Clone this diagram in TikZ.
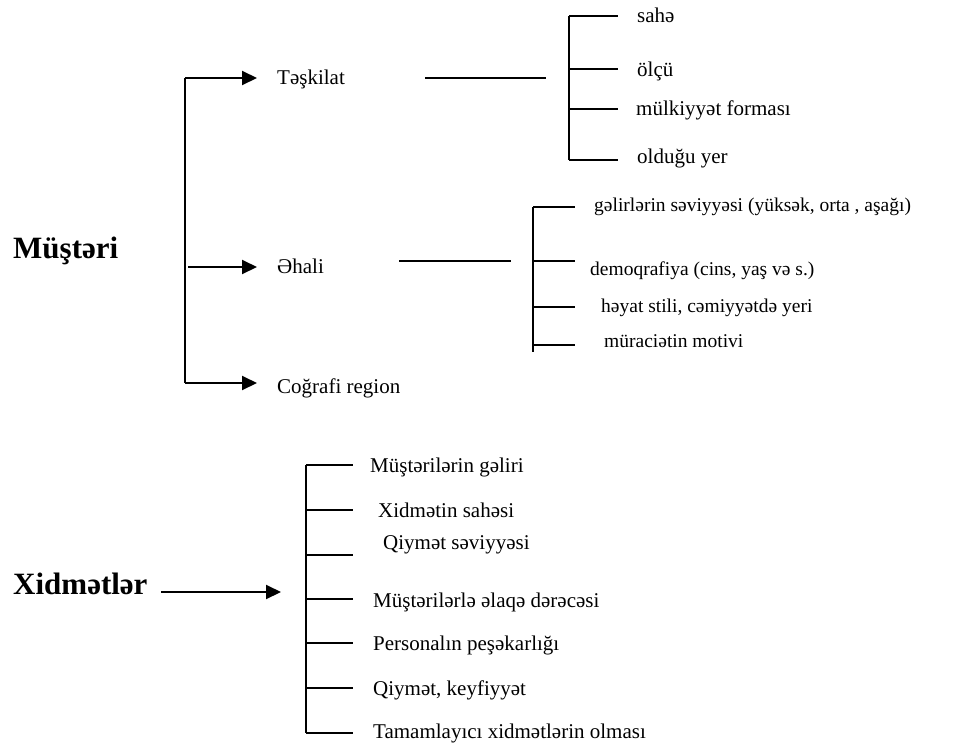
\documentclass[tikz,border=0pt]{standalone}
\usepackage{fontspec}
\setmainfont{Liberation Serif}
\usetikzlibrary{arrows.meta}
\begin{document}
\begin{tikzpicture}[x=1pt,y=-1pt,
  lbl/.style={anchor=base west,inner sep=0pt,font=\fontsize{21}{25}\selectfont},
  slbl/.style={anchor=base west,inner sep=0pt,font=\fontsize{19.5}{23}\selectfont},
  head/.style={anchor=base west,inner sep=0pt,font=\fontsize{31}{36}\selectfont\bfseries},
  ln/.style={line width=2pt},
  arr/.style={ln,-{Triangle[length=15pt,width=14pt]}}]
\useasboundingbox (0,0) rectangle (961,742);

% ---- Müştəri: main split into three groups
\node[head] (mus) at (13,258) {Müştəri};
\coordinate (mtop) at (185,78);
\coordinate (mbot) at (185,383);
\coordinate (mmid) at (188,267);
\coordinate (a1) at (257,78);
\coordinate (a2) at (257,267);
\coordinate (a3) at (257,383);
\draw[ln] (mtop) -- (mbot);
\draw[arr] (mtop) -- (a1);
\draw[arr] (mmid) -- (a2);
\draw[arr] (mbot) -- (a3);
\node[lbl] (tk) at (277,84) {Təşkilat};
\node[lbl] (eh) at (277,273) {Əhali};
\node[lbl] (cr) at (277,393) {Coğrafi region};

% ---- Təşkilat: sub-criteria
\coordinate (tl1) at (425,78);
\coordinate (tl2) at (546,78);
\draw[ln] (tl1) -- (tl2);
\coordinate (tb1) at (569,16);
\coordinate (tb2) at (569,69);
\coordinate (tb3) at (569,109);
\coordinate (tb4) at (569,160);
\coordinate (te1) at (618,16);
\coordinate (te2) at (618,69);
\coordinate (te3) at (618,109);
\coordinate (te4) at (618,160);
\draw[ln] (tb1) -- (tb4);
\foreach \i in {1,...,4} \draw[ln] (tb\i) -- (te\i);
\node[lbl] (t1) at (637,22) {sahə};
\node[lbl] (t2) at (637,76) {ölçü};
\node[lbl] (t3) at (636,115) {mülkiyyət forması};
\node[lbl] (t4) at (637,163) {olduğu yer};

% ---- Əhali: sub-criteria
\coordinate (el1) at (399,261);
\coordinate (el2) at (511,261);
\draw[ln] (el1) -- (el2);
\coordinate (eb1) at (533,207);
\coordinate (eb2) at (533,261);
\coordinate (eb3) at (533,307);
\coordinate (eb4) at (533,345);
\coordinate (ebend) at (533,352);
\coordinate (ee1) at (575,207);
\coordinate (ee2) at (575,261);
\coordinate (ee3) at (575,307);
\coordinate (ee4) at (575,345);
\draw[ln] (eb1) -- (ebend);
\foreach \i in {1,...,4} \draw[ln] (eb\i) -- (ee\i);
\node[slbl] (e1) at (594,211) {gəlirlərin səviyyəsi (yüksək, orta , aşağı)};
\node[slbl] (e2) at (590,275) {demoqrafiya (cins, yaş və s.)};
\node[slbl] (e3) at (601,312) {həyat stili, cəmiyyətdə yeri};
\node[slbl] (e4) at (604,347) {müraciətin motivi};

% ---- Xidmətlər
\node[head] (xid) at (13,594) {Xidmətlər};
\coordinate (xa1) at (161,592);
\coordinate (xa2) at (281,592);
\draw[arr] (xa1) -- (xa2);
\foreach \i/\y in {1/465,2/510,3/555,4/599,5/643,6/688,7/733}{
  \coordinate (xb\i) at (306,\y);
  \coordinate (xe\i) at (353,\y);
}
\draw[ln] (xb1) -- (xb7);
\foreach \i in {1,...,7} \draw[ln] (xb\i) -- (xe\i);
\node[lbl] (x1) at (370,472) {Müştərilərin gəliri};
\node[lbl] (x2) at (378,517) {Xidmətin sahəsi};
\node[lbl] (x3) at (383,549) {Qiymət səviyyəsi};
\node[lbl] (x4) at (373,607) {Müştərilərlə əlaqə dərəcəsi};
\node[lbl] (x5) at (373,650) {Personalın peşəkarlığı};
\node[lbl] (x6) at (373,695) {Qiymət, keyfiyyət};
\node[lbl] (x7) at (373,738) {Tamamlayıcı xidmətlərin olması};
\end{tikzpicture}
\end{document}
